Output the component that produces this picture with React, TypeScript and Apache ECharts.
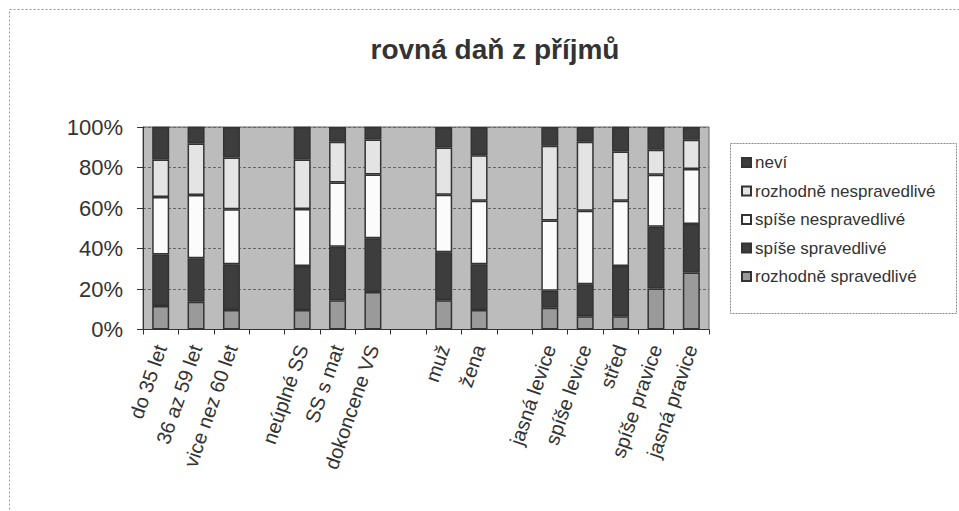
import React, { useEffect, useRef } from "react";
import * as echarts from "echarts";

const categories = [
  "do 35 let", "36 az 59 let", "vice nez 60 let", " ",
  "neúplné SS", "SS s mat", "dokoncene VS", "  ",
  "muž", "žena", "   ",
  "jasná levice", "spíše levice", "střed", "spíše pravice", "jasná pravice",
];

const rozhodneSpravedlive = [11.6, 13.7, 9.6, null, 9.6, 14.5, 18.5, null, 14.5, 9.6, null, 10.7, 6.6, 6.6, 20.3, 28.2];
const spiseSpravedlive = [25.4, 21.5, 22.6, null, 21.8, 26.4, 26.6, null, 23.6, 22.6, null, 8.4, 15.8, 24.8, 30.5, 23.9];
const spiseNespravedlive = [28.4, 31.2, 27.2, null, 28.1, 31.7, 31.4, null, 28.4, 31.4, null, 34.7, 36.3, 32.2, 25.6, 27.1];
const rozhodneNespravedlive = [18.5, 25.4, 25.6, null, 24.4, 20.1, 17.3, null, 23.4, 22.4, null, 37.0, 34.0, 24.3, 12.4, 14.5];
const nevi = [16.2, 8.3, 15.0, null, 16.2, 7.3, 6.3, null, 10.1, 14.0, null, 9.2, 7.3, 12.2, 11.2, 6.3];

const seriesNames = [
  "rozhodně spravedlivé",
  "spíše spravedlivé",
  "spíše nespravedlivé",
  "rozhodně nespravedlivé",
  "neví",
];
const seriesData = [rozhodneSpravedlive, spiseSpravedlive, spiseNespravedlive, rozhodneNespravedlive, nevi];
const seriesColors = ["#9a9a9a", "#3d3d3d", "#fbfbfb", "#e4e4e4", "#3d3d3d"];

const FONT = "'Liberation Sans', Arial, sans-serif";

export default function App() {
  const ref = useRef<HTMLDivElement>(null);
  useEffect(() => {
    document.body.style.margin = "0";
    const chart = echarts.init(ref.current!, null, { renderer: "svg" });
    chart.setOption({
      animation: false,
      backgroundColor: "#ffffff",
      textStyle: { fontFamily: FONT },
      title: {
        text: "rovná daň z příjmů",
        left: 490,
        top: 30,
        textAlign: "center",
        textStyle: { fontFamily: FONT, fontSize: 28, fontWeight: "bold", color: "#333" },
      },
      graphic: [
        {
          type: "rect",
          shape: { x: 9.5, y: 9.5, width: 1000, height: 600 },
          style: { fill: "none", stroke: "#999", lineWidth: 1, lineDash: [2, 2] },
          silent: true,
        },
        {
          type: "rect",
          shape: { x: 730.5, y: 143.5, width: 226, height: 170 },
          style: { fill: "#fff", stroke: "#888", lineWidth: 1, lineDash: [2, 1] },
          silent: true,
          z: 0,
        },
      ],
      legend: {
        orient: "vertical",
        left: 736,
        top: 149,
        icon: "rect",
        itemWidth: 9,
        itemHeight: 9,
        itemGap: 11.5,
        data: seriesNames.slice().reverse(),
        textStyle: { fontFamily: FONT, fontSize: 17, color: "#333", padding: [0, 0, 0, -1] },
        z: 10,
      },
      grid: { left: 143, right: 250, top: 127, bottom: 181.5, show: true, backgroundColor: "#bcbcbc", borderColor: "#666", borderWidth: 1 },
      xAxis: {
        type: "category",
        data: categories,
        axisLine: { lineStyle: { color: "#333", width: 1 } },
        axisTick: { show: true, interval: 0, length: 5, lineStyle: { color: "#333" } },
        axisLabel: {
          interval: 0,
          rotate: 71,
          margin: 16,
          fontSize: 20,
          color: "#333",
          fontFamily: FONT,
        },
      },
      yAxis: {
        type: "value",
        min: 0,
        max: 100,
        interval: 20,
        axisLine: { show: true, lineStyle: { color: "#333" } },
        axisTick: { show: true, length: 6, lineStyle: { color: "#333" } },
        axisLabel: { formatter: "{value}%", fontSize: 22, color: "#333", margin: 20, fontFamily: FONT },
        splitLine: { lineStyle: { color: "#666", type: [3, 2], width: 1 } },
      },
      series: seriesNames.map((name, i) => ({
        name,
        type: "bar",
        stack: "total",
        data: seriesData[i],
        barWidth: 17,
        itemStyle: { color: seriesColors[i], borderColor: "#333", borderWidth: 1.5 },
      })),
    });
    return () => chart.dispose();
  }, []);
  return <div ref={ref} style={{ width: 959, height: 511 }} />;
}
